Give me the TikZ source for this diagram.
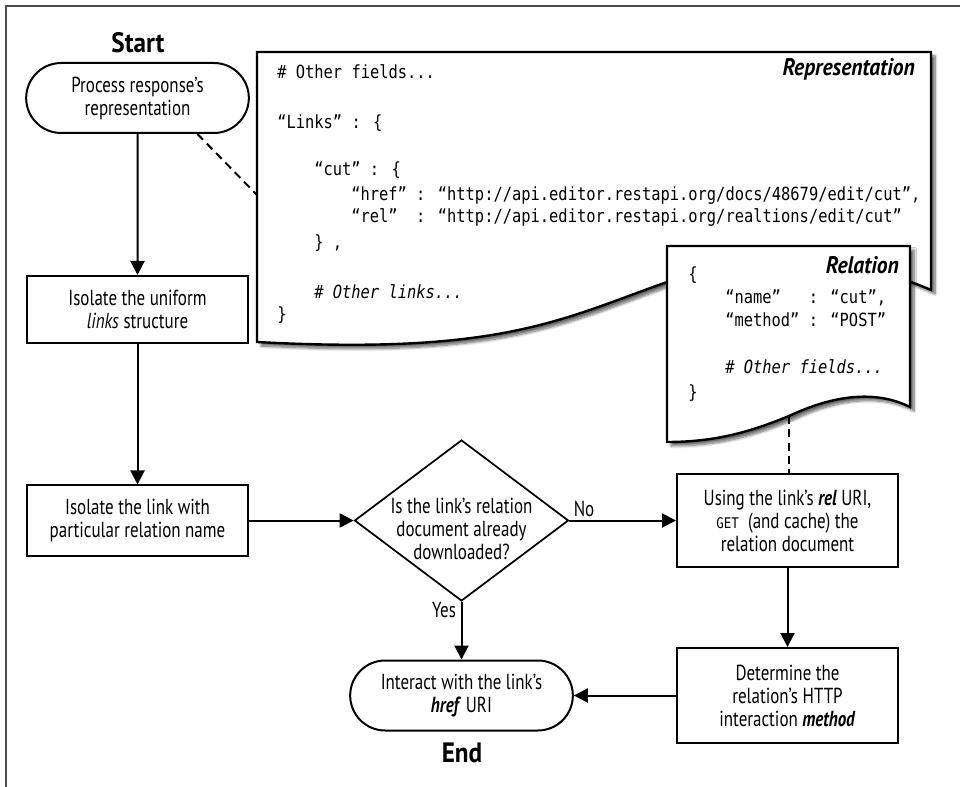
\documentclass[tikz,border=0pt]{standalone}
\usepackage{fontspec}
\setmainfont{PT Sans}[FakeStretch=0.78]
\newfontfamily\mytitlefam{PT Sans}[FakeStretch=0.9]
\newfontfamily\mycodefam{DejaVu Sans Mono}[FakeStretch=0.85]
\usetikzlibrary{arrows.meta,shapes.geometric,shapes.misc,shadows.blur}
\newcommand\myflowfont{\fontsize{16.3}{17.25}\selectfont}
\newcommand\mycodefont{\fontsize{13.6}{16}\selectfont\mycodefam}
\newcommand\mygetfont{\fontsize{11}{13}\selectfont\mycodefam}
\newcommand\mytitlefont{\fontsize{18}{20}\selectfont\mytitlefam\bfseries\itshape}
\newcommand\mybigfont{\fontsize{21}{23}\selectfont\mytitlefam\bfseries}
\begin{document}
\begin{tikzpicture}[x=0.75pt,y=-0.75pt,
  flow/.style={draw, line width=1.5pt, align=center, font=\myflowfont, inner sep=0pt},
  procbox/.style={flow, rectangle, minimum width=165.75pt},
  termbox/.style={flow, rounded rectangle, minimum width=167pt, minimum height=52.5pt},
  decbox/.style={draw, diamond, line width=1.3pt, inner sep=0pt, minimum width=160.5pt, minimum height=120.75pt},
  arr/.style={line width=1.5pt, -{Triangle[width=10.5pt,length=10.5pt]}},
  linkline/.style={line width=1.5pt, dash pattern=on 6pt off 4pt},
  docshape/.style={draw, line width=1.8pt, fill=white, blur shadow={shadow xshift=3pt, shadow yshift=-3pt, shadow blur steps=8, shadow opacity=60}},
  codeline/.style={anchor=base west, inner sep=0pt, font=\mycodefont},
  doctitle/.style={anchor=east, inner sep=0pt, font=\mytitlefont},
  flowlabel/.style={font=\myflowfont, inner sep=0pt, align=center},
  biglabel/.style={font=\mybigfont, inner sep=0pt},
  framestyle/.style={draw=black!70, line width=1.2pt}
]
\useasboundingbox (0,0) rectangle (960,787);
\draw[framestyle] (6,787) -- (6,6) -- (960,6);

% flow nodes
\node[biglabel] (start) at (138,43) {Start};
\node[termbox] (proc) at (137.5,98) {Process response’s\\representation};
\node[procbox, minimum height=50.25pt] (b1) at (137.5,309.5) {Isolate the uniform\\\textit{links} structure};
\node[procbox, minimum height=52.5pt] (b2) at (137.5,520.5) {Isolate the link with\\particular relation name};
\node[decbox] (dec) at (461.5,520.5) {};
\node[flowlabel] (dect) at (461.5,529) {Is the link’s relation\\document already\\downloaded?};
\node[procbox, minimum height=69.75pt] (b3) at (787.5,520.5) {Using the link’s \textbf{\textit{rel}} URI,\\{\mygetfont GET}\ \ (and cache) the\\relation document};
\node[procbox, minimum height=71.25pt] (b4) at (787.5,695.5) {Determine the\\relation’s HTTP\\interaction \textbf{\textit{method}}};
\node[termbox] (endn) at (461.5,695.5) {Interact with the link’s\\\textbf{\textit{href}} URI};
\node[biglabel] (endl) at (462,753) {End};
\node[flowlabel] (no) at (584,509) {No};
\node[flowlabel] (yes) at (444,610) {Yes};

% connectors
\draw[arr] (proc) -- (b1);
\draw[arr] (b1) -- (b2);
\draw[arr] (b2.east) -- (dec.west);
\draw[arr] (dec.east) -- (b3.west);
\draw[arr] (dec.south) -- (endn.north);
\draw[arr] (b3) -- (b4);
\draw[arr] (b4.west) -- (endn.east);

\coordinate (repL) at (257,195);
\draw[linkline] (proc.-31) -- (repL);

% Representation document
\draw[docshape] (257,52) -- (931,52) -- (931,290)
  .. controls (850,255) and (760,250) .. (667,282)
  .. controls (560,320) and (500,355) .. (257,342) -- cycle;
\node[doctitle] (rt) at (915,69.5) {Representation};
\node[codeline] (r1) at (277,79) {\# Other fields...};
\node[codeline] (r2) at (277,129) {“Links” : \{};
\node[codeline] (r3) at (314,176) {“cut” : \{};
\node[codeline] (r4) at (351,201) {“href” : “http://api.editor.restapi.org/docs/48679/edit/cut”,};
\node[codeline] (r5) at (351,223) {“rel”\ \ : “http://api.editor.restapi.org/realtions/edit/cut”};
\node[codeline] (r6) at (314,249) {\} ,};
\node[codeline] (r7) at (314,299) {\# \textit{Other links...}};
\node[codeline] (r8) at (277,321) {\}};

% Relation document
\draw[docshape] (667,246) -- (910,246) -- (910,407)
  .. controls (880,392) and (840,392) .. (789,416)
  .. controls (750,432) and (715,442) .. (667,442) -- cycle;
\node[doctitle] (lt) at (899,265) {Relation};
\node[codeline] (l1) at (688,281) {\{};
\node[codeline] (l2) at (725,304) {“name”\ \ \ : “cut”,};
\node[codeline] (l3) at (725,327) {“method” : “POST”};
\node[codeline] (l4) at (725,374) {\# \textit{Other fields...}};
\node[codeline] (l5) at (688,399) {\}};

\coordinate (relB) at (789,416);
\draw[linkline] (relB) -- (relB |- b3.north);
\end{tikzpicture}
\end{document}
